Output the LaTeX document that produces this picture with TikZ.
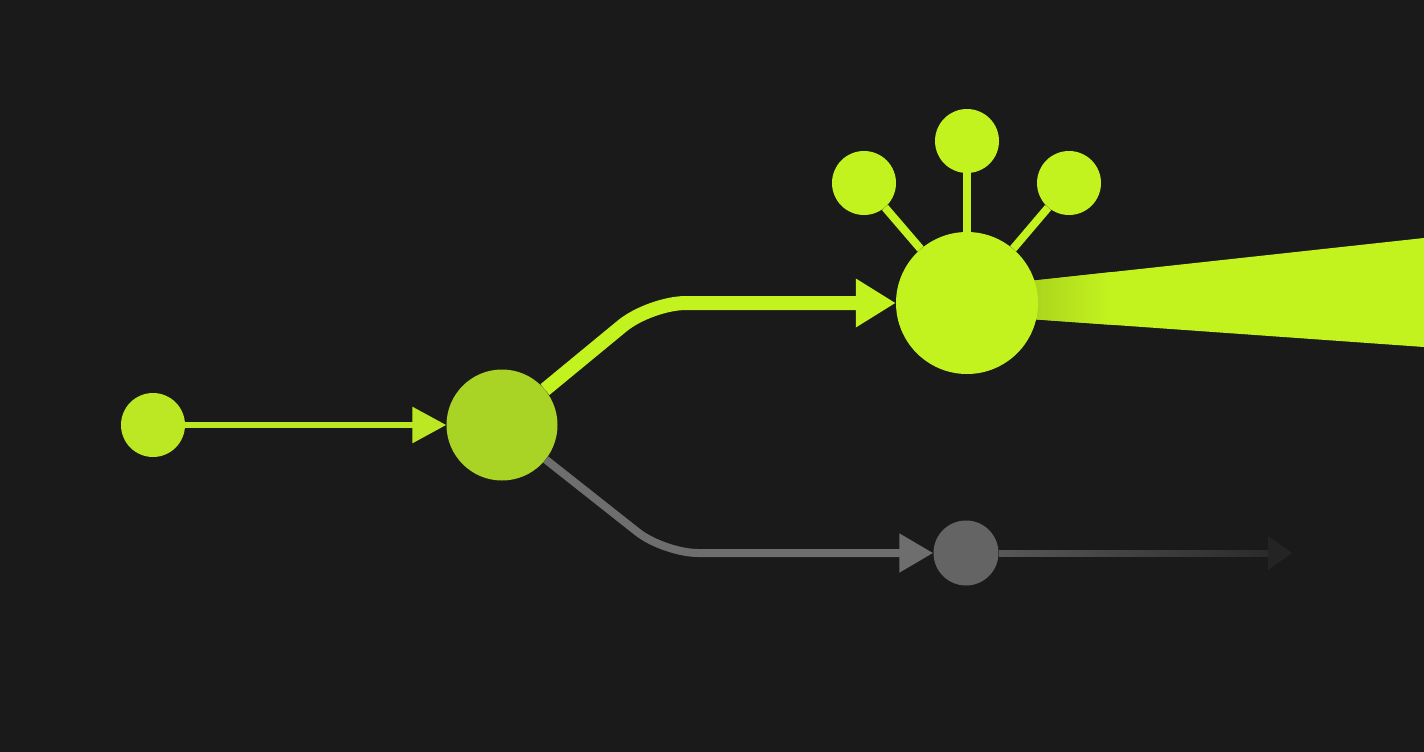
\documentclass[tikz,border=0pt]{standalone}
\usetikzlibrary{arrows.meta}
\usetikzlibrary{fadings}
\definecolor{bg}{HTML}{1A1A1A}
\definecolor{lime}{HTML}{C3F31F}
\definecolor{limeA}{HTML}{BCE823}
\definecolor{limeB}{HTML}{A9D425}
\definecolor{ash}{HTML}{6E6E6E}
\definecolor{ashnode}{HTML}{646464}
\definecolor{tipgray}{HTML}{242424}
\tikzfading[name=fade tail, left color=transparent!25, right color=transparent!85]
\tikzset{blob/.style={circle, inner sep=0pt, minimum size=#1},
  flow/.style={line width=#1, line join=round}}

\begin{document}
\begin{tikzpicture}[x=1pt, y=-1pt]
      \fill [bg] (0, 0) rectangle (1424, 752);
      \useasboundingbox (0, 0) rectangle (1424, 752);

      % beam behind the hub
      \fill [lime] (1030, 281) -- (1424, 238) -- (1424, 347) -- (1030, 319) -- cycle;
      \begin{scope}
        \clip (1030, 281) -- (1424, 238) -- (1424, 347) -- (1030, 319) -- cycle;
        \shade [left color=lime!87!black, right color=lime] (1030, 230) rectangle (1110, 330);
      \end{scope}

      \node [blob=64pt, fill=limeA] (src) at (153, 425) {};
      \node [blob=111pt, fill=limeB] (split) at (502, 425) {};
      \node [blob=142pt, fill=lime] (hub) at (967, 303) {};
      \node [blob=64pt, fill=lime] (leafL) at (864, 183) {};
      \node [blob=64pt, fill=lime] (leafT) at (967, 141) {};
      \node [blob=64pt, fill=lime] (leafR) at (1069, 183) {};
      \node [blob=65pt, fill=ashnode] (idle) at (966, 553) {};

      \coordinate (bendU) at (650, 303);
      \coordinate (bendD) at (664, 553);
      \coordinate (tail) at (1292, 553);

      \draw [flow=6pt, limeA, -{Triangle[length=34pt, width=35pt]}] (src) -- (split);
      \draw [flow=14pt, lime, rounded corners=36pt, -{Triangle[length=40pt, width=46pt]}]
        (split) -- (bendU) -- (hub);
      \draw [flow=8pt, ash, rounded corners=34pt, -{Triangle[length=34pt, width=37pt]}]
        (split) -- (bendD) -- (idle);
      \draw [flow=7pt, ash, path fading=fade tail, shorten >=22pt] (idle) -- (tail);
      \fill [tipgray] (tail) -- ++(-24, -17) -- ++(0, 34) -- cycle;

      \draw [flow=8pt, lime] (hub) -- (leafL);
      \draw [flow=8pt, lime] (hub) -- (leafT);
      \draw [flow=8pt, lime] (hub) -- (leafR);

    \end{tikzpicture}
\end{document}
